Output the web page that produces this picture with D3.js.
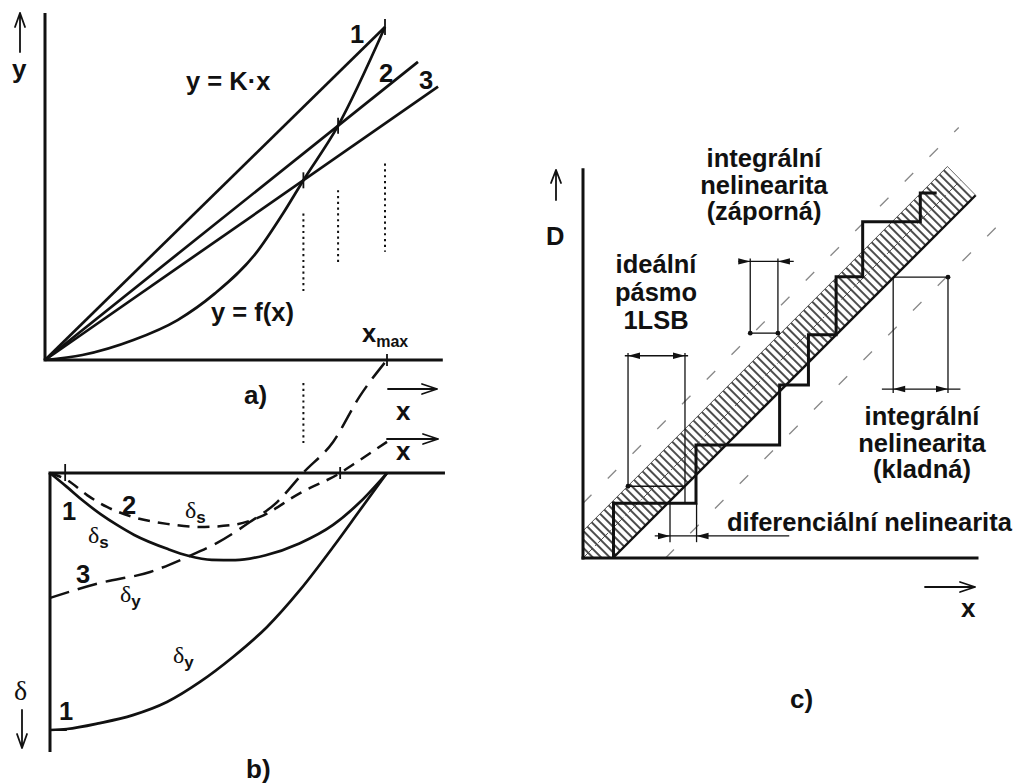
<!DOCTYPE html>
<html>
<head>
<meta charset="utf-8">
<script src="https://cdn.jsdelivr.net/npm/d3@7"></script>
<style>
  html, body { margin: 0; padding: 0; background: #fff; }
  svg { display: block; }
  text { font-family: "Liberation Sans", Arial, sans-serif; font-weight: bold; fill: #111; }
  .greek { font-family: "Liberation Serif", "DejaVu Serif", serif; font-weight: normal; }
</style>
</head>
<body>
<svg id="chart" width="1016" height="784"></svg>
<script>
// ---------- a) characteristic y = f(x) and the straight lines y = K·x ----------
// x relative to x_max, y relative to f(x_max)
const fX = [0, 0.11, 0.26, 0.39, 0.50, 0.62, 0.70, 0.76, 0.86, 1.0];
const fY = [0, 0.015, 0.06, 0.12, 0.20, 0.32, 0.44, 0.54, 0.70, 1.0];
const lineNames = ["1", "2", "3"];
const lineK = [1.0, 0.816, 0.71];
const lineXEnd = [1.0, 1.097, 1.156];
const crossX = [1.0, 0.862, 0.76];          // where each line meets f(x)
const guideTop = [0.59, 0.51, 0.44];        // dotted drop lines under the crossings
const guideBottom = [0.325, 0.285, 0.20];

// ---------- b) relative errors δ (downwards positive) ----------
const dsolX = [0, 0.05, 0.10, 0.15, 0.20, 0.25, 0.35, 0.41, 0.48, 0.55, 0.64, 0.74, 0.84, 0.92, 1.0];
const ds1Y  = [0, 0.054, 0.11, 0.16, 0.203, 0.241, 0.296, 0.322, 0.338, 0.339, 0.320, 0.274, 0.202, 0.113, 0];
const dy1X  = [0, 0.05, 0.148, 0.246, 0.347, 0.445, 0.543, 0.644, 0.742, 0.84, 0.92, 1.0];
const dy1Y  = [1.0, 0.996, 0.973, 0.942, 0.891, 0.813, 0.716, 0.599, 0.455, 0.288, 0.144, 0];
const ds2X  = [0, 0.05, 0.11, 0.169, 0.246, 0.347, 0.445, 0.543, 0.623, 0.742, 0.861, 0.92, 1.0];
const ds2Y  = [0, 0.027, 0.086, 0.132, 0.171, 0.198, 0.210, 0.202, 0.171, 0.078, 0, -0.051, -0.121];
const dy3X  = [0, 0.148, 0.297, 0.407, 0.496, 0.593, 0.674, 0.751, 0.84, 0.92, 1.0];
const dy3Y  = [0.486, 0.428, 0.385, 0.327, 0.272, 0.191, 0.113, 0, -0.121, -0.30, -0.44];

// ---------- c) converter transfer characteristic, in LSB ----------
const stairU = [0.54, 0.54, 2.00, 2.00, 3.48, 3.48, 3.99, 3.99, 4.48, 4.48, 4.95, 4.95, 5.97, 5.97, 6.26];
const stairV = [0, 0.97, 0.97, 2.00, 2.00, 3.06, 3.06, 3.95, 3.95, 4.98, 4.98, 5.95, 5.95, 6.46, 6.46];
const bandLow = 0.53;      // lower edge of the ideal 1 LSB band: u = v + bandLow
const bandHigh = -0.48;    // upper edge: u = v + bandHigh
const bandEndV = [6.42, 6.93];
const limitLines = [-0.97, 1.46];   // dashed tolerance lines u = v + offset

const ink = "#111";
const svg = d3.select("#chart");
svg.append("rect").attr("width", 1016).attr("height", 784).attr("fill", "#fff");

const defs = svg.append("defs");
const hatch = defs.append("pattern")
  .attr("id", "hatch").attr("patternUnits", "userSpaceOnUse")
  .attr("width", 6).attr("height", 10)
  .attr("patternTransform", "rotate(-45)");
hatch.append("line").attr("x1", 1).attr("y1", 0).attr("x2", 1).attr("y2", 10)
  .attr("stroke", "#111").attr("stroke-width", 1.5);

function openArrow(g, x1, y1, x2, y2, len = 14, half = 5, w = 1.8) {
  const dx = x2 - x1, dy = y2 - y1, L = Math.hypot(dx, dy);
  const ux = dx / L, uy = dy / L, px = -uy, py = ux;
  const p = d3.path();
  p.moveTo(x1, y1); p.lineTo(x2, y2);
  p.moveTo(x2 - ux * len + px * half, y2 - uy * len + py * half);
  p.lineTo(x2, y2);
  p.lineTo(x2 - ux * len - px * half, y2 - uy * len - py * half);
  g.append("path").attr("d", p.toString()).attr("fill", "none")
    .attr("stroke", ink).attr("stroke-width", w)
    .attr("stroke-linecap", "round").attr("stroke-linejoin", "round");
}
function filledHead(g, x, y, dir, len = 12, half = 3.2) {
  g.append("path")
    .attr("d", `M${x},${y}L${x - dir * len},${y - half}L${x - dir * len},${y + half}Z`)
    .attr("fill", ink);
}
function seg(g, x1, y1, x2, y2, w, extra) {
  const l = g.append("line").attr("x1", x1).attr("y1", y1).attr("x2", x2).attr("y2", y2)
    .attr("stroke", ink).attr("stroke-width", w).attr("stroke-linecap", "butt");
  if (extra) extra(l);
  return l;
}
function label(g, x, y, s, size = 25.5, anchor = "start") {
  return g.append("text").attr("x", x).attr("y", y).attr("font-size", size)
    .attr("text-anchor", anchor).text(s);
}
function deltaLabel(g, x, y, sub, size = 24) {
  const t = g.append("text").attr("x", x).attr("y", y);
  t.append("tspan").attr("class", "greek").attr("font-size", size).text("δ");
  if (sub) t.append("tspan").attr("font-size", 17).attr("dy", 5).text(sub);
}

// ================= panel a =================
const xA = d3.scaleLinear().domain([0, 1]).range([45, 385]);
const yA = d3.scaleLinear().domain([0, 1]).range([360, 27]);
const gA = svg.append("g");

seg(gA, xA(0), yA(0), xA(0), yA(1.042), 3);
seg(gA, xA(0) - 1.5, yA(0), xA(1.17), yA(0), 3);

const lineA = d3.line().x(d => xA(d[0])).y(d => yA(d[1])).curve(d3.curveMonotoneX);
gA.append("path").attr("d", lineA(fX.map((x, i) => [x, fY[i]])))
  .attr("fill", "none").attr("stroke", ink).attr("stroke-width", 2.7);

lineK.forEach((k, i) => {
  seg(gA, xA(0), yA(0), xA(lineXEnd[i]), yA(k * lineXEnd[i]), 2.7);
});
const lineLabelPos = [[350, 43], [379, 82], [419, 89]];
lineNames.forEach((n, i) => label(gA, lineLabelPos[i][0], lineLabelPos[i][1], n));

// small ticks where the lines cross the characteristic
crossX.forEach((cx, i) => {
  const px = xA(cx), py = yA(lineK[i] * cx);
  seg(gA, px, py - 8, px, py + 8, 1.8);
});
// dotted drop lines
crossX.forEach((cx, i) => {
  seg(gA, xA(cx), yA(guideTop[i]), xA(cx), yA(guideBottom[i]), 2, l => l.attr("stroke-dasharray", "2.2,3.6"));
});
seg(gA, xA(crossX[2]), yA(-0.069), xA(crossX[2]), yA(-0.249), 2, l => l.attr("stroke-dasharray", "2.2,3.6"));
// tick at x_max
seg(gA, xA(1) + 2, yA(0) - 6, xA(1) + 2, yA(0) + 6, 1.8);

label(gA, 186, 90, "y = K·x");
label(gA, 211, 321, "y = f(x)");
const xm = gA.append("text").attr("x", 362).attr("y", 342).attr("font-size", 25.5);
xm.append("tspan").text("x");
xm.append("tspan").attr("font-size", 16).attr("dy", 5).text("max");

openArrow(gA, 20, 52, 20, 13, 14, 5);
label(gA, 12, 78, "y", 26);
openArrow(gA, 388, 389, 437, 389, 15, 5);
label(gA, 396, 420, "x", 26);
label(gA, 244, 404, "a)", 26);

// ================= panel b =================
const xB = d3.scaleLinear().domain([0, 1]).range([50, 387]);
const yB = d3.scaleLinear().domain([0, 1]).range([473, 730]);
const gB = svg.append("g");

seg(gB, xB(0), yB(0), xB(0), yB(1.086), 3);
seg(gB, xB(0) - 1.5, yB(0), xB(1.172), yB(0), 3);

const lineB = d3.line().x(d => xB(d[0])).y(d => yB(d[1])).curve(d3.curveMonotoneX);
const curve = (xs, ys) => lineB(xs.map((x, i) => [x, ys[i]]));
gB.append("path").attr("d", curve(dsolX, ds1Y)).attr("fill", "none").attr("stroke", ink).attr("stroke-width", 2.7);
gB.append("path").attr("d", curve(dy1X, dy1Y)).attr("fill", "none").attr("stroke", ink).attr("stroke-width", 2.7);
gB.append("path").attr("d", curve(ds2X, ds2Y)).attr("fill", "none").attr("stroke", ink).attr("stroke-width", 2.5)
  .attr("stroke-dasharray", "12,8");
gB.append("path").attr("d", curve(dy3X, dy3Y)).attr("fill", "none").attr("stroke", ink).attr("stroke-width", 2.5)
  .attr("stroke-dasharray", "20,9");

// zero crossings
seg(gB, xB(0.045), yB(0) - 9, xB(0.045), yB(0) + 8, 1.8);
seg(gB, xB(ds2X[10]), yB(0) - 6, xB(ds2X[10]), yB(0) + 6, 1.8);
seg(gB, xB(0), yB(1), xB(0.05), yB(1), 2);

label(gB, 62, 520, "1");
deltaLabel(gB, 88, 543, "s");
label(gB, 122, 514, "2");
deltaLabel(gB, 185, 518, "s");
label(gB, 76, 583, "3");
deltaLabel(gB, 120, 602, "y");
deltaLabel(gB, 173, 663, "y");
label(gB, 59, 720, "1");
gB.append("text").attr("class", "greek").attr("x", 14).attr("y", 700).attr("font-size", 28).text("δ");
openArrow(gB, 22, 710, 22, 748, 14, 5);
openArrow(gB, 387, 439, 438, 439, 15, 5);
label(gB, 396, 460, "x", 26);
label(gB, 246, 778, "b)", 26);

// ================= panel c =================
const LSB = 56.5;
const xC = d3.scaleLinear().domain([0, 1]).range([583, 583 + LSB]);
const yC = d3.scaleLinear().domain([0, 1]).range([558, 558 - LSB]);
const gC = svg.append("g");

// dashed tolerance lines
limitLines.forEach((o, i) => {
  const v0 = Math.max(0, -o), v1 = i === 0 ? 7.62 : 6.04;
  seg(gC, xC(v0 + o), yC(v0), xC(v1 + o), yC(v1), 1.3, l => l.attr("stroke", "#888").attr("stroke-dasharray", "12,23"));
});

// hatched ideal band
const bandPts = [[0, 0], [bandLow, 0], [bandEndV[0] + bandLow, bandEndV[0]], [bandEndV[1] + bandHigh, bandEndV[1]], [0, -bandHigh]];
gC.append("path")
  .attr("d", d3.line().x(d => xC(d[0])).y(d => yC(d[1]))(bandPts) + "Z")
  .attr("fill", "url(#hatch)").attr("stroke", "none");
// band centre line
seg(gC, xC(0), yC(0), xC(6.68), yC(6.68), 0.9, l => l.attr("stroke", "#444").attr("stroke-dasharray", "14,3,1.5,3"));
// band edges
seg(gC, xC(bandLow), yC(0), xC(bandEndV[0] + bandLow), yC(bandEndV[0]), 2.4);
seg(gC, xC(0), yC(-bandHigh), xC(bandEndV[1] + bandHigh), yC(bandEndV[1]), 1, l => l.attr("stroke", "#555"));
seg(gC, xC(bandEndV[0] + bandLow), yC(bandEndV[0]), xC(bandEndV[1] + bandHigh), yC(bandEndV[1]), 1, l => l.attr("stroke", "#777"));

// staircase
gC.append("path")
  .attr("d", d3.line().x(d => xC(d[0])).y(d => yC(d[1]))(stairU.map((u, i) => [u, stairV[i]])))
  .attr("fill", "none").attr("stroke", ink).attr("stroke-width", 3).attr("stroke-linejoin", "miter");

// axes
seg(gC, xC(0), yC(0) + 1.5, xC(0), yC(6.9), 3);
seg(gC, xC(0) - 1.5, yC(0), xC(7.0), yC(0), 3);

// dimension: ideal band 1 LSB
const thin = 1.3;
const dot = (u, v) => gC.append("circle").attr("cx", xC(u)).attr("cy", yC(v)).attr("r", 2.4).attr("fill", ink);
seg(gC, xC(0.797), yC(3.63), xC(0.797), yC(1.27), thin);
seg(gC, xC(1.805), yC(3.63), xC(1.805), yC(0.97), thin);
seg(gC, xC(0.797), yC(1.27), xC(1.805), yC(1.27), thin);
dot(0.797, 1.27);
seg(gC, xC(0.74), yC(3.58), xC(1.86), yC(3.58), thin);
filledHead(gC, xC(0.797), yC(3.58), -1);
filledHead(gC, xC(1.805), yC(3.58), 1);

// dimension: integral nonlinearity (negative)
seg(gC, xC(2.96), yC(5.30), xC(2.96), yC(3.98), thin);
seg(gC, xC(3.45), yC(5.30), xC(3.45), yC(3.98), thin);
seg(gC, xC(2.96), yC(3.98), xC(3.45), yC(3.98), thin);
dot(2.96, 3.98); dot(3.45, 3.98);
seg(gC, xC(2.75), yC(5.25), xC(3.73), yC(5.25), thin);
filledHead(gC, xC(2.96), yC(5.25), 1);
filledHead(gC, xC(3.45), yC(5.25), -1);

// dimension: integral nonlinearity (positive)
seg(gC, xC(5.49), yC(4.97), xC(5.49), yC(2.92), thin);
seg(gC, xC(6.46), yC(4.97), xC(6.46), yC(2.92), thin);
seg(gC, xC(5.49), yC(4.97), xC(6.46), yC(4.97), thin);
dot(6.46, 4.97);
seg(gC, xC(5.29), yC(2.99), xC(6.68), yC(2.99), thin);
filledHead(gC, xC(5.49), yC(2.99), -1);
filledHead(gC, xC(6.46), yC(2.99), 1);

// dimension: differential nonlinearity
seg(gC, xC(1.54), yC(1.0), xC(1.54), yC(0.28), thin);
seg(gC, xC(2.01), yC(0.97), xC(2.01), yC(0.28), thin);
seg(gC, xC(1.27), yC(0.39), xC(3.65), yC(0.39), thin);
filledHead(gC, xC(1.54), yC(0.39), 1);
filledHead(gC, xC(2.01), yC(0.39), -1);

// texts
label(gC, 764, 167, "integrální", 25.5, "middle");
label(gC, 764, 194, "nelinearita", 25.5, "middle");
label(gC, 764, 220, "(záporná)", 25.5, "middle");
label(gC, 656, 273, "ideální", 25.5, "middle");
label(gC, 656, 301, "pásmo", 25.5, "middle");
label(gC, 656, 329, "1LSB", 25.5, "middle");
label(gC, 922, 425, "integrální", 25.5, "middle");
label(gC, 922, 452, "nelinearita", 25.5, "middle");
label(gC, 922, 478, "(kladná)", 25.5, "middle");
label(gC, 727, 531, "diferenciální nelinearita", 25.5);

openArrow(gC, 556, 200, 556, 170, 13, 5);
label(gC, 546, 245, "D", 25.5);
openArrow(gC, 925, 587, 975, 587, 15, 5);
label(gC, 961, 617, "x", 26);
label(gC, 790, 708, "c)", 26);
</script>
</body>
</html>
